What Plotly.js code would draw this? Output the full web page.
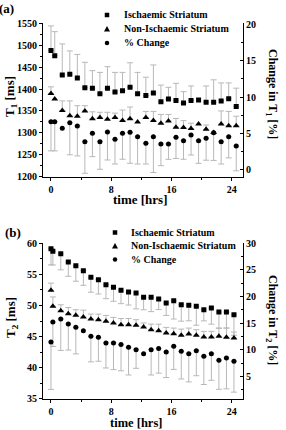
<!DOCTYPE html>
<html>
<head>
<meta charset="utf-8">
<script src="https://cdn.plot.ly/plotly-3.0.1.min.js"></script>
<style>
  html, body { margin: 0; padding: 0; background: #fff; }
  #chart { width: 286px; height: 430px; }
</style>
</head>
<body>
<div id="chart"></div>
<script>
// ---------- Panel (a): T1 relaxation time ----------
const hoursA = [0, 0.5, 1.5, 2.5, 3.5, 4.5, 5.5, 6.5, 7.5, 8.5, 9.5, 10.5, 11.5,
                12.6, 13.6, 14.6, 15.6, 16.6, 17.6, 18.6, 19.6, 20.6, 21.6, 22.6, 23.6, 24.6];
const t1Ischaemic = [1488, 1476, 1432, 1434, 1425, 1403, 1402, 1389, 1402, 1393, 1396, 1404, 1389,
                     1385, 1391, 1371, 1377, 1374, 1368, 1374, 1375, 1370, 1370, 1373, 1378, 1360];
const t1IschaemicErrUp = [56, 55, 71, 53, 54, 58, 40, 49, 49, 45, 42, 56, 49,
                          42, 64, 38, 27, 39, 26, 33, null, 37, 51, 41, 36, 42];
const t1NonIschaemic = [1390, 1377, 1351, 1339, 1338, 1350, 1332, 1335, 1331, 1335, 1328, 1332, 1325,
                        1335, 1328, 1322, 1327, 1313, 1312, 1310, 1320, 1308, 1301, 1320, 1316, 1316];
const t1NonIschaemicErrUp = [15, null, 22, 34, 24, 12, 16, 12, 16, 10, 24, 27, null,
                             14, 21, 20, 15, 20, 16, 12, null, 10, null, 30, 33, 22];
const t1Change = [6.62, 6.62, 5.71, 6.48, 6.03, 3.88, 5.03, 3.88, 5.21, 4.2, 5.03, 5.16, 4.56,
                  3.66, 4.56, 3.56, 3.56, 4.48, 4.01, 4.79, 4.01, 4.34, 5.11, 3.88, 4.56, 3.29];
const t1ChangeErrDown = [4.0, 4.0, null, 4.4, 4.1, 4.33, 3.2, 3.78, 3.84, 3.38, 3.56, 4.24, 3.74,
                         2.84, 4.9, 2.97, 2.1, 2.9, 2.54, 2.74, 3.1, 3.0, 3.8, 3.06, 2.9, 3.4];

// ---------- Panel (b): T2 relaxation time ----------
const hoursB = [0, 0.25, 1.3, 2.3, 3.3, 4.3, 5.3, 6.3, 7.3, 8.3, 9.3, 10.3, 11.3,
                12.3, 13.3, 14.3, 15.3, 16.3, 17.3, 18.3, 19.3, 20.3, 21.3, 22.3, 23.3, 24.3];
const t2Ischaemic = [59.13, 58.71, 58.33, 56.99, 56.4, 55.59, 54.53, 54.14, 53.34, 52.92, 52.44, 52.17, 52.0,
                     51.31, 51.31, 51.04, 50.4, 50.77, 50.12, 50.03, 49.87, 49.32, 49.59, 48.95, 48.95, 48.51];
const t2IschaemicErrDown = [2.6, 2.2, 2.6, 2.3, 2.5, 2.35, 2.4, 2.3, 2.25, 2.25, 2.15, 2.1, 2.55,
                            2.0, 2.3, 1.7, 2.0, 2.95, 2.65, 2.5, 3.05, 1.8, 2.6, 2.6, 2.6, 3.3];
const t2NonIschaemic = [52.44, 49.87, 49.16, 48.67, 48.42, 48.14, 47.82, 47.71, 47.45, 47.18, 46.9, 46.9, 46.81,
                        46.53, 46.1, 45.94, 45.57, 45.46, 45.2, 45.41, 45.2, 44.93, 44.93, 45.04, 44.88, 44.77];
const t2NonIschaemicErrUp = [1.15, 1.5, 0.95, 1.0, 0.9, 1.1, 0.8, 0.9, 0.95, 0.9, 1.0, 1.0, 0.9,
                             0.65, 0.9, 1.05, 0.9, 0.9, 1.0, 0.95, 0.9, 0.9, 0.9, 1.3, 1.5, 0.95];
const t2Change = [11.5, 15.25, 15.81, 14.88, 14.26, 13.62, 12.57, 12.38, 11.32, 11.32, 11.0, 10.51, 10.06,
                  9.31, 10.06, 10.25, 9.63, 10.7, 9.76, 9.31, 9.87, 8.82, 9.31, 8.07, 8.5, 7.89];
const t2ChangeErrDown = [8.9, 4.6, 5.9, 4.9, 5.0, null, 4.8, 4.5, 4.7, 5.0, 4.9, 5.2, 3.5,
                         null, 4.75, 4.6, 4.8, 4.35, 5.2, 5.3, 4.7, 5.3, 5.0, 5.45, 5.8, 5.8];

const seriesNames = ['Ischaemic Striatum', 'Non-Ischaemic Striatum', '% Change'];

// ---------- helpers ----------
const W = 286, H = 430;
const fx = p => p / W;          // pixel -> paper x
const fy = p => 1 - p / H;      // pixel -> paper y
const SERIF = 'Liberation Serif, Times New Roman, serif';
const ERR_COLOR = '#b8b8b8';

// missing error values are skipped entirely (NaN on both sides)
const clean = arr => arr.map(v => (v === null ? NaN : v));

function errUp(arr) {
  return { type: 'data', symmetric: false, array: clean(arr), arrayminus: [],
           color: ERR_COLOR, thickness: 1, width: 3 };
}
function errDown(arr) {
  return { type: 'data', symmetric: false, array: [], arrayminus: clean(arr),
           color: ERR_COLOR, thickness: 1, width: 3 };
}
function points(x, y, xa, ya, symbol, size, err, name) {
  return { type: 'scatter', mode: 'markers', name: name, x: x, y: y, xaxis: xa, yaxis: ya,
           marker: { symbol: symbol, size: size, color: '#000', line: { width: 0 } },
           error_y: err, showlegend: false, hoverinfo: 'skip' };
}

const traces = [
  points(hoursA, t1Ischaemic, 'x', 'y', 'square', 5, errUp(t1IschaemicErrUp), seriesNames[0]),
  points(hoursA, t1NonIschaemic, 'x', 'y', 'triangle-up', 6, errUp(t1NonIschaemicErrUp), seriesNames[1]),
  points(hoursA, t1Change, 'x', 'y2', 'circle', 5, errDown(t1ChangeErrDown), seriesNames[2]),
  points(hoursB, t2Ischaemic, 'x2', 'y3', 'square', 5, errDown(t2IschaemicErrDown), seriesNames[0]),
  points(hoursB, t2NonIschaemic, 'x2', 'y3', 'triangle-up', 6, errUp(t2NonIschaemicErrUp), seriesNames[1]),
  points(hoursB, t2Change, 'x2', 'y4', 'circle', 5, errDown(t2ChangeErrDown), seriesNames[2])
];

const tickFont = { family: SERIF, size: 10, weight: 'bold', color: '#000' };
const plotX = [fx(43), fx(243)];
const domA = [fy(176.7), fy(23.3)];
const domB = [fy(398.7), fy(243.3)];

function timeAxis(anchor) {
  return {
    domain: plotX, anchor: anchor, range: [-1.06, 25.5],
    tickmode: 'linear', tick0: 0, dtick: 8,
    ticks: 'outside', ticklen: 3, tickwidth: 1, tickcolor: '#000',
    minor: { tickmode: 'linear', tick0: 0, dtick: 4, ticks: 'outside', ticklen: 2, tickcolor: '#000' },
    showline: true, linecolor: '#000', linewidth: 1,
    showgrid: false, zeroline: false, tickfont: tickFont, fixedrange: true
  };
}
function leftAxis(domain, anchor, range, dtick, minorStep) {
  return {
    domain: domain, anchor: anchor, range: range,
    tickmode: 'linear', tick0: 0, dtick: dtick,
    ticks: 'outside', ticklen: 3, tickwidth: 1, tickcolor: '#000',
    minor: { tickmode: 'linear', tick0: 0, dtick: minorStep, ticks: 'outside', ticklen: 2, tickcolor: '#000' },
    showline: true, linecolor: '#000', linewidth: 1,
    showgrid: false, zeroline: false, tickfont: tickFont, fixedrange: true
  };
}
function rightAxis(over, anchor, range, dtick, minorStep) {
  return {
    overlaying: over, side: 'right', anchor: anchor, range: range,
    tickmode: 'linear', tick0: 0, dtick: dtick,
    ticks: 'inside', ticklen: 3, tickwidth: 1, tickcolor: '#000',
    minor: { tickmode: 'linear', tick0: 0, dtick: minorStep, ticks: 'inside', ticklen: 2, tickcolor: '#000' },
    showline: true, linecolor: '#000', linewidth: 1,
    showgrid: false, zeroline: false, tickfont: tickFont, fixedrange: true
  };
}

function label(text, px, py, size, opts) {
  return Object.assign({
    text: text, xref: 'paper', yref: 'paper', x: fx(px), y: fy(py),
    xanchor: 'center', yanchor: 'middle', showarrow: false,
    font: { family: SERIF, size: size, weight: 'bold', color: '#000' }
  }, opts || {});
}

// legend keys drawn as small shapes next to their labels
function keySquare(cx, cy, s) {
  return { type: 'rect', xref: 'paper', yref: 'paper',
           x0: fx(cx - s / 2), x1: fx(cx + s / 2), y0: fy(cy + s / 2), y1: fy(cy - s / 2),
           fillcolor: '#000', line: { width: 0 } };
}
function keyTriangle(cx, cy, s) {
  const p = `M ${fx(cx - s / 2)},${fy(cy + s * 0.42)} L ${fx(cx + s / 2)},${fy(cy + s * 0.42)} L ${fx(cx)},${fy(cy - s * 0.5)} Z`;
  return { type: 'path', xref: 'paper', yref: 'paper', path: p, fillcolor: '#000', line: { width: 0 } };
}
function keyCircle(cx, cy, d) {
  return { type: 'circle', xref: 'paper', yref: 'paper',
           x0: fx(cx - d / 2), x1: fx(cx + d / 2), y0: fy(cy + d / 2), y1: fy(cy - d / 2),
           fillcolor: '#000', line: { width: 0 } };
}
function legendBlock(markX, textX, rows) {
  return {
    shapes: [keySquare(markX, rows[0], 4.5), keyTriangle(markX, rows[1], 6), keyCircle(markX, rows[2], 4.5)],
    labels: seriesNames.map((n, i) => label(n, textX, rows[i], 10, { xanchor: 'left' }))
  };
}
const legA = legendBlock(107, 122, [15, 29, 43]);
const legB = legendBlock(115, 129, [232.5, 246, 259.5]);

const layout = {
  width: W, height: H,
  margin: { l: 0, r: 0, t: 0, b: 0 },
  paper_bgcolor: '#fff', plot_bgcolor: 'rgba(0,0,0,0)',
  showlegend: false,
  font: { family: SERIF, color: '#000' },
  xaxis: timeAxis('y'),
  yaxis: leftAxis(domA, 'x', [1200, 1550], 50, 25),
  yaxis2: rightAxis('y', 'x', [-0.92, 20.1], 5, 2.5),
  xaxis2: timeAxis('y3'),
  yaxis3: leftAxis(domB, 'x2', [35, 60], 5, 2.5),
  yaxis4: rightAxis('y3', 'x2', [0.86, 30], 5, 2.5),
  shapes: legA.shapes.concat(legB.shapes),
  annotations: [
    label('(a)', -3, 9, 13, { xanchor: 'left' }),
    label('(b)', 3, 232.5, 13, { xanchor: 'left' }),
    label('T<sub>1</sub> [ms]', 10, 97, 13, { textangle: -90 }),
    label('Change in T<sub>1</sub> [%]', 272, 94, 12, { textangle: 90 }),
    label('time [hrs]', 140, 200, 13),
    label('T<sub>2</sub> [ms]', 11, 318, 13, { textangle: -90 }),
    label('Change in T<sub>2</sub> [%]', 272, 320, 12, { textangle: 90 }),
    label('time [hrs]', 136, 422.5, 12.5)
  ].concat(legA.labels, legB.labels)
};

Plotly.newPlot('chart', traces, layout, { staticPlot: true, displayModeBar: false });
</script>
</body>
</html>
